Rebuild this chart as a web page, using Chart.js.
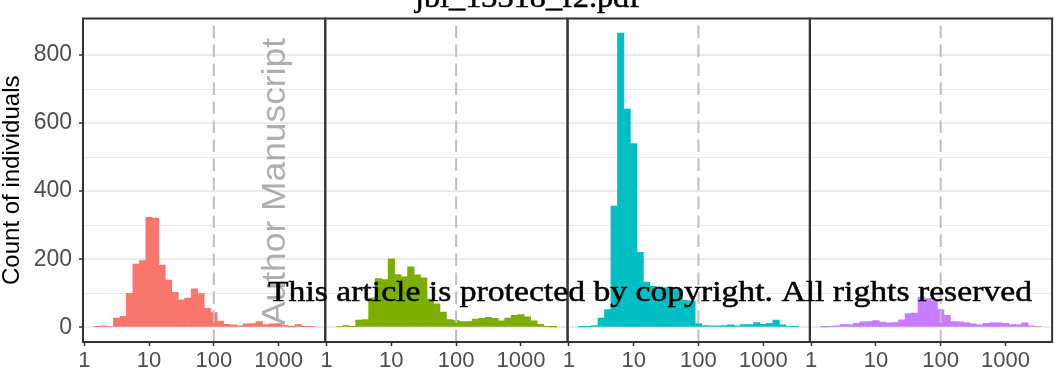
<!DOCTYPE html>
<html>
<head>
<meta charset="utf-8">
<title>Count of individuals</title>
<script src="https://cdn.jsdelivr.net/npm/chart.js@4/dist/chart.umd.min.js"></script>
<style>
  html, body { margin: 0; padding: 0; background: #ffffff; }
  canvas { display: block; }
</style>
</head>
<body>
<canvas id="chart" width="1056" height="373"></canvas>
<script>
// Histogram bins: midpoints in log10 units (bin width 0.1 decade)
const binMidLog10 = [0.2, 0.3, 0.4, 0.5, 0.6, 0.7, 0.8, 0.9, 1.0, 1.1, 1.2, 1.3, 1.4, 1.5, 1.6, 1.7, 1.8,
                     1.9, 2.0, 2.1, 2.2, 2.3, 2.4, 2.5, 2.6, 2.7, 2.8, 2.9, 3.0, 3.1, 3.2, 3.3, 3.4, 3.5];

// Counts per bin, one array per panel
const countsPanel1 = [2, 4, 3, 27, 32, 100, 186, 196, 323, 321, 183, 139, 103, 81, 86, 113, 99,
                      56, 43, 18, 9, 7, 4, 10, 11, 17, 8, 10, 11, 6, 1, 8, 2, 2];
const countsPanel2 = [3, 5, 2, 21, 23, 86, 143, 140, 201, 155, 148, 178, 154, 145, 83, 69, 45,
                      23, 20, 17, 17, 24, 26, 29, 26, 19, 27, 35, 37, 31, 19, 9, 2, 1];
const countsPanel3 = [1, 2, 5, 27, 52, 356, 864, 641, 540, 220, 133, 120, 118, 117, 112, 110, 79,
                      78, 11, 5, 4, 4, 5, 7, 4, 8, 8, 14, 9, 12, 21, 7, 3, 2];
const countsPanel4 = [1, 2, 4, 8, 8, 12, 16, 17, 20, 15, 13, 14, 22, 40, 42, 89, 84,
                      77, 52, 35, 17, 16, 14, 10, 7, 12, 13, 13, 12, 8, 8, 13, 4, 3];

const xTickValues = [1, 10, 100, 1000];
const yGridValues = [0, 100, 200, 300, 400, 500, 600, 700, 800];
const yLabelValues = [0, 200, 400, 600, 800];
const referenceLineValue = 100;

const panelCounts = [countsPanel1, countsPanel2, countsPanel3, countsPanel4];
const panelColours = ['#F8766D', '#7CAE00', '#00BFC4', '#C77CFF'];
const panelIds = ['p1', 'p2', 'p3', 'p4'];

const sansFamily = '"Liberation Sans", Arial, Helvetica, sans-serif';
const serifFamily = '"Liberation Serif", "Times New Roman", serif';

// x range: log10 from -0.02 to 3.72 (data span plus 5% each side)
const xMin = Math.pow(10, -0.02);
const xMax = Math.pow(10, 3.72);
const yMin = -43.2;
const yMax = 907.2;

const datasets = panelIds.map((id, p) => ({
  label: id,
  xAxisID: id,
  yAxisID: 'y',
  data: binMidLog10.map((m, i) => ({ x: Math.pow(10, m), y: panelCounts[p][i] })),
  backgroundColor: panelColours[p],
  borderWidth: 0,
  grouped: false,
  barPercentage: 1,
  categoryPercentage: 1
}));

const scales = {
  y: {
    type: 'linear',
    position: 'left',
    min: yMin,
    max: yMax,
    afterBuildTicks: s => { s.ticks = yGridValues.map(v => ({ value: v })); },
    afterFit: s => { s.width = 83; },
    border: { display: false },
    grid: {
      color: '#EBEBEB',
      lineWidth: c => (c.tick && yLabelValues.includes(c.tick.value)) ? 2 : 1,
      drawTicks: true,
      tickLength: 4,
      tickWidth: 1.5,
      tickColor: c => (c.tick && yLabelValues.includes(c.tick.value)) ? '#333333' : 'rgba(0,0,0,0)'
    },
    ticks: {
      autoSkip: false,
      padding: 7,
      color: '#4D4D4D',
      font: { family: sansFamily, size: 23, lineHeight: 1 },
      callback: v => yLabelValues.includes(v) ? String(v) : ''
    },
    title: {
      display: true,
      text: 'Count of individuals',
      color: '#000000',
      padding: 0,
      font: { family: sansFamily, size: 24, lineHeight: 1 }
    }
  }
};

panelIds.forEach(id => {
  scales[id] = {
    type: 'logarithmic',
    axis: 'x',
    position: 'bottom',
    stack: 'facets',
    stackWeight: 1,
    min: xMin,
    max: xMax,
    offset: false,
    bounds: 'data',
    afterBuildTicks: s => { s.ticks = xTickValues.map(v => ({ value: v })); },
    afterFit: s => { s.height = 31; },
    border: { display: false },
    grid: {
      display: true,
      offset: false,
      drawOnChartArea: false,
      drawTicks: true,
      tickLength: 4,
      tickWidth: 1.5,
      tickColor: '#333333'
    },
    ticks: {
      autoSkip: false,
      maxRotation: 0,
      minRotation: 0,
      padding: 4,
      color: '#4D4D4D',
      font: { family: sansFamily, size: 22, lineHeight: 1 },
      callback: v => String(v)
    }
  };
});

// Dashed reference line at 100 and a frame around each facet
const facetDecor = {
  id: 'facetDecor',
  afterDatasetsDraw(chart) {
    const { ctx, chartArea } = chart;
    panelIds.forEach(id => {
      const s = chart.scales[id];
      const x = s.getPixelForValue(referenceLineValue);
      ctx.save();
      ctx.strokeStyle = '#BEBEBE';
      ctx.lineWidth = 2;
      ctx.setLineDash([12.5, 6.5]);
      ctx.beginPath();
      ctx.moveTo(x, chartArea.bottom);
      ctx.lineTo(x, chartArea.top);
      ctx.stroke();
      ctx.restore();
    });
    panelIds.forEach(id => {
      const s = chart.scales[id];
      ctx.save();
      ctx.strokeStyle = '#333333';
      ctx.lineWidth = 2;
      ctx.strokeRect(s.left, chartArea.top, s.right - s.left, chartArea.bottom - chartArea.top);
      ctx.restore();
    });
  }
};

// Page stamps printed over the figure
function stampText(ctx, text, font, colour, x, y, width, angle, weight) {
  ctx.save();
  ctx.font = font;
  const w = ctx.measureText(text).width;
  ctx.translate(x, y);
  if (angle) ctx.rotate(angle);
  ctx.scale(width / w, 1);
  ctx.fillStyle = colour;
  ctx.textAlign = 'left';
  ctx.textBaseline = 'alphabetic';
  ctx.fillText(text, 0, 0);
  if (weight) {
    ctx.strokeStyle = colour;
    ctx.lineWidth = weight;
    ctx.lineJoin = 'round';
    ctx.strokeText(text, 0, 0);
  }
  ctx.restore();
}

const pageStamps = {
  id: 'pageStamps',
  afterDraw(chart) {
    const ctx = chart.ctx;
    stampText(ctx, 'Author Manuscript', '34px ' + sansFamily, 'rgba(120,120,120,0.6)', 285, 325, 287, -Math.PI / 2, 0);
    stampText(ctx, 'jbi_13318_f2.pdf', '29px ' + serifFamily, '#000000', 415, 7, 225, 0, 0.5);
    stampText(ctx, 'This article is protected by copyright. All rights reserved', '29px ' + serifFamily, '#000000', 268, 301, 764, 0, 0.5);
  }
};

new Chart(document.getElementById('chart'), {
  type: 'bar',
  data: { datasets },
  options: {
    responsive: false,
    devicePixelRatio: 1,
    animation: false,
    datasets: { bar: { barPercentage: 1, categoryPercentage: 1, grouped: false } },
    layout: { padding: { top: 4, right: 3, left: 0, bottom: 0 } },
    plugins: {
      legend: { display: false },
      tooltip: { enabled: false },
      title: { display: false }
    },
    scales
  },
  plugins: [facetDecor, pageStamps]
});
</script>
</body>
</html>
